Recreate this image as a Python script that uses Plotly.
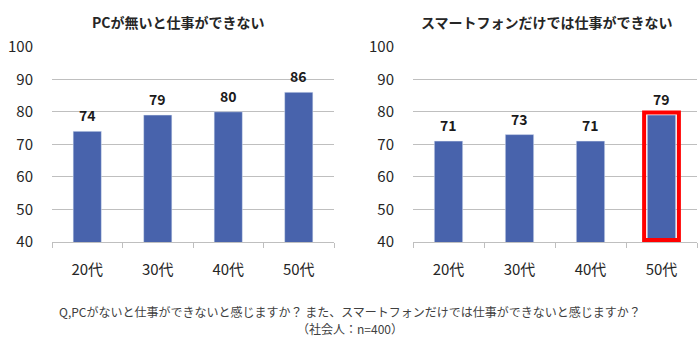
import plotly.graph_objects as go

categories = ["20代", "30代", "40代", "50代"]
pc_values = [74, 79, 80, 86]
smart_values = [71, 73, 71, 79]
y_ticks = [40, 50, 60, 70, 80, 90, 100]
title_pc = "PCが無いと仕事ができない"
title_smart = "スマートフォンだけでは仕事ができない"
footnote_1 = "Q,PCがないと仕事ができないと感じますか？ また、スマートフォンだけでは仕事ができないと感じますか？"
footnote_2 = "（社会人：n=400）"
highlight_index = 3

FONT = "Noto Sans CJK JP"
BAR = "#4863AC"
GRID = "#BFBFBF"
TXT = "#262626"

fig = go.Figure()
fig.add_trace(go.Bar(x=categories, y=pc_values, width=0.4, marker_color=BAR,
                     xaxis="x", yaxis="y", showlegend=False, hoverinfo="x+y"))
fig.add_trace(go.Bar(x=categories, y=smart_values, width=0.4, marker_color=BAR,
                     xaxis="x2", yaxis="y2", showlegend=False, hoverinfo="x+y"))

annotations = []
for xa, ya, vals in (("x", "y", pc_values), ("x2", "y2", smart_values)):
    for c, v in zip(categories, vals):
        annotations.append(dict(x=c, y=v, xref=xa, yref=ya, text=str(v), showarrow=False,
                                yanchor="bottom", yshift=4,
                                font=dict(family=FONT, size=14, color="#1a1a1a", weight="bold")))

annotations += [
    dict(x=178 / 700, y=1 - 22 / 347, xref="paper", yref="paper", text=title_pc, showarrow=False,
         xanchor="center", yanchor="middle", font=dict(family=FONT, size=14, color=TXT, weight="bold")),
    dict(x=547 / 700, y=1 - 22 / 347, xref="paper", yref="paper", text=title_smart, showarrow=False,
         xanchor="center", yanchor="middle", font=dict(family=FONT, size=14, color=TXT, weight="bold")),
    dict(x=350 / 700, y=1 - 311 / 347, xref="paper", yref="paper", text=footnote_1, showarrow=False,
         xanchor="center", yanchor="middle", font=dict(family=FONT, size=12, color="#404040")),
    dict(x=350 / 700, y=1 - 328 / 347, xref="paper", yref="paper", text=footnote_2, showarrow=False,
         xanchor="center", yanchor="middle", font=dict(family=FONT, size=12, color="#404040")),
]

hv = smart_values[highlight_index]
shapes = [dict(type="rect", xref="x2", yref="y2",
               x0=highlight_index - 0.245, x1=highlight_index + 0.245,
               y0=40.6, y1=hv + 0.75, line=dict(color="#FF0000", width=4),
               fillcolor="rgba(0,0,0,0)", layer="above")]

ydom = [1 - 242 / 347, 1 - 46.7 / 347]
xcommon = dict(type="category", showline=True, linecolor=GRID, linewidth=1,
               ticks="outside", tickson="boundaries", ticklen=5, tickcolor=GRID,
               showgrid=False, tickfont=dict(family=FONT, size=15, color=TXT), ticklabelstandoff=14,
               automargin=False)
ycommon = dict(range=[40, 100], tickvals=y_ticks, showgrid=True, gridcolor=GRID, gridwidth=1,
               showline=False, zeroline=False, ticks="", domain=ydom, automargin=False,
               tickfont=dict(family=FONT, size=15, color=TXT), ticklabelstandoff=18)

fig.update_layout(
    width=700, height=347,
    margin=dict(l=0, r=0, t=0, b=0, autoexpand=False),
    paper_bgcolor="white", plot_bgcolor="white",
    bargap=0.6,
    xaxis=dict(domain=[52 / 700, 334 / 700], anchor="y", **xcommon),
    yaxis=dict(anchor="x", **ycommon),
    xaxis2=dict(domain=[413 / 700, 697 / 700], anchor="y2", **xcommon),
    yaxis2=dict(anchor="x2", **ycommon),
    annotations=annotations,
    shapes=shapes,
)

fig.write_html("out.html")
